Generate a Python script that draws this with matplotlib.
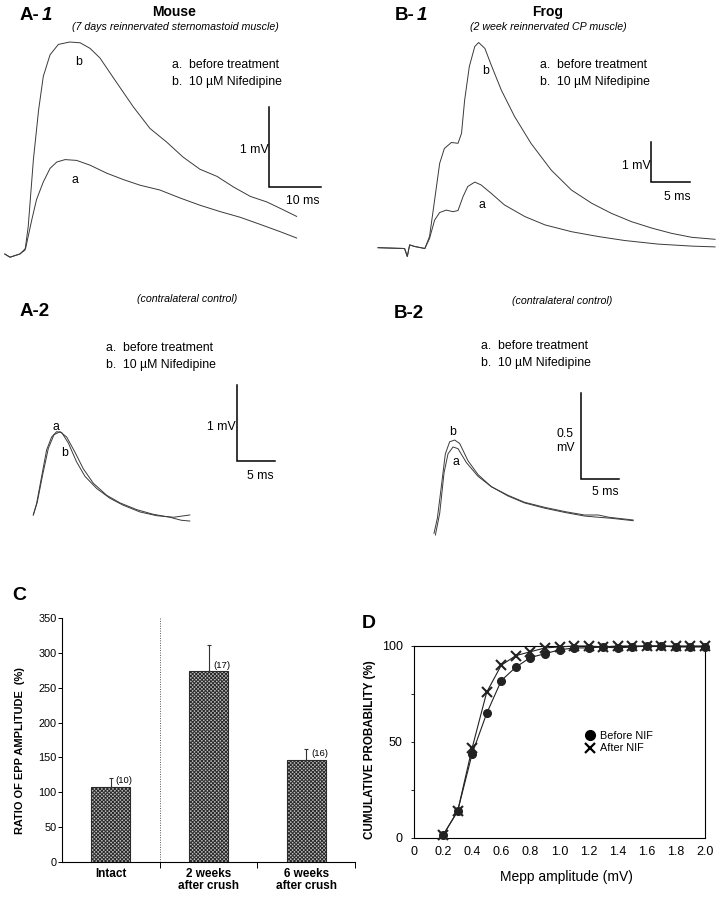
import matplotlib.pyplot as plt
from matplotlib.lines import Line2D

plt.rcParams['font.family'] = ['Liberation Sans', 'DejaVu Sans']
plt.rcParams['hatch.linewidth'] = 0.7

W, H = 716, 899

# --- EPP traces (time in ms, amplitude in mV) ---
# A-1: mouse, 7 days reinnervated
a1_a_t = [-3.5, -2.5, -0.6, 0.5, 1.7, 2.6, 3.9, 5.2, 6.5, 8.1, 10.3, 12.9, 16.1, 19.3, 22.5,
          26.3, 30.2, 34.0, 37.9, 41.7, 45.6, 49.4, 52.6]
a1_a_v = [0.0, -0.04, 0.0, 0.07, 0.43, 0.68, 0.90, 1.07, 1.15, 1.18, 1.17, 1.11, 1.01, 0.93, 0.86,
          0.80, 0.70, 0.61, 0.53, 0.46, 0.37, 0.28, 0.20]
a1_b_t = [-3.5, -2.5, -0.6, 0.4, 1.0, 2.0, 3.0, 3.9, 5.2, 6.8, 9.0, 11.0, 12.9, 14.8, 17.4, 21.2,
          24.4, 27.6, 30.8, 34.0, 37.3, 40.4, 43.7, 46.9, 50.1, 52.6]
a1_b_v = [0.0, -0.04, 0.0, 0.05, 0.34, 1.18, 1.80, 2.22, 2.49, 2.62, 2.65, 2.64, 2.57, 2.45, 2.20, 1.84,
          1.57, 1.40, 1.21, 1.06, 0.97, 0.84, 0.72, 0.65, 0.55, 0.47]

# B-1: frog, 2 week reinnervated
b1_a_t = [-6.4, -3.0, -2.65, -2.35, -1.7, -0.4, 0.2, 0.85, 1.5, 2.35, 3.2, 3.85, 4.5, 5.1, 6.0,
          6.8, 8.1, 9.8, 12.4, 15.0, 18.4, 21.8, 25.2, 29.5, 33.8, 36.8]
b1_a_v = [0.0, -0.02, -0.22, 0.07, 0.03, -0.02, 0.23, 0.69, 0.88, 0.94, 0.90, 0.93, 1.28, 1.53, 1.64,
          1.57, 1.36, 1.07, 0.78, 0.57, 0.40, 0.28, 0.18, 0.09, 0.04, 0.02]
b1_b_t = [-6.4, -3.0, -2.65, -2.35, -1.7, -0.4, 0.2, 0.85, 1.5, 2.1, 3.0, 3.85, 4.3, 4.7, 5.3, 6.0,
          6.5, 7.3, 8.1, 9.4, 11.1, 13.2, 15.8, 18.4, 21.0, 23.5, 26.1, 28.7, 31.2, 33.8, 36.8]
b1_b_v = [0.0, -0.02, -0.22, 0.07, 0.03, -0.02, 0.28, 1.19, 2.11, 2.48, 2.63, 2.61, 2.86, 3.69, 4.53, 5.03,
          5.13, 4.98, 4.57, 3.94, 3.28, 2.61, 1.94, 1.44, 1.11, 0.86, 0.65, 0.49, 0.36, 0.26, 0.21]

# A-2: mouse, contralateral control
a2_a_t = [0, 0.43, 1.09, 1.74, 2.39, 3.04, 3.70, 4.57, 5.65, 6.74, 8.26, 10.0, 11.7, 13.9, 16.1, 18.3, 20.4]
a2_a_v = [0, 0.15, 0.51, 0.86, 1.03, 1.10, 1.09, 0.95, 0.70, 0.51, 0.35, 0.22, 0.13, 0.04, -0.01, -0.03, 0.0]
a2_b_t = [0, 0.52, 1.22, 1.96, 2.70, 3.48, 4.35, 5.43, 6.52, 7.82, 9.57, 11.3, 13.5, 15.6, 17.8, 19.3, 20.4]
a2_b_v = [0, 0.17, 0.53, 0.88, 1.06, 1.10, 1.03, 0.83, 0.61, 0.42, 0.26, 0.16, 0.07, 0.01, -0.03, -0.07, -0.08]

# B-2: frog, contralateral control
b2_a_t = [0.18, 0.75, 1.32, 1.84, 2.5, 3.16, 4.25, 5.79, 7.54, 9.74, 11.9, 14.6, 17.3, 19.8, 21.6, 23.3, 26.2]
b2_a_v = [-0.01, 0.116, 0.35, 0.46, 0.50, 0.49, 0.41, 0.33, 0.27, 0.216, 0.176, 0.145, 0.12, 0.10, 0.093,
          0.087, 0.073]
b2_b_t = [0, 0.44, 0.96, 1.49, 2.06, 2.72, 3.38, 4.47, 5.79, 7.54, 9.74, 11.9, 14.6, 17.3, 19.8, 21.6,
          23.0, 24.6, 26.2]
b2_b_v = [0, 0.087, 0.27, 0.46, 0.53, 0.54, 0.52, 0.42, 0.34, 0.27, 0.22, 0.18, 0.15, 0.125, 0.106, 0.106,
          0.093, 0.085, 0.077]

# --- C: ratio of EPP amplitude ---
groups = ['Intact', '2 weeks\nafter crush', '6 weeks\nafter crush']
ratio = [108, 274, 147]
ratio_err = [12, 37, 15]
n_cells = ['(10)', '(17)', '(16)']

# --- D: cumulative mepp amplitude ---
mepp = [0.2, 0.3, 0.4, 0.5, 0.6, 0.7, 0.8, 0.9, 1.0, 1.1, 1.2, 1.3, 1.4, 1.5, 1.6, 1.7, 1.8, 1.9, 2.0]
before_nif = [1.5, 14, 44, 65, 82, 89, 94, 96, 98, 99, 99, 99.5, 99, 99.5, 100, 100, 99.5, 99.5, 99.5]
after_nif = [1.5, 14, 47, 76, 90, 95, 97, 99, 99.5, 100, 100, 99.5, 100, 100, 100, 100, 100, 100, 100]

fig = plt.figure(figsize=(W / 100, H / 100), dpi=100)


def px(x, y):
    return x / W, 1 - y / H


def txt(x, y, s, **kw):
    kw.setdefault('fontsize', 8.8)
    kw.setdefault('va', 'center')
    fig.text(*px(x, y), s, **kw)


def trace_axes(x0, y0, x1, y1, xlim, ylim):
    l, t = px(x0, y0)
    r, b = px(x1, y1)
    ax = fig.add_axes([l, b, r - l, t - b])
    ax.set_xlim(*xlim)
    ax.set_ylim(*ylim)
    ax.axis('off')
    return ax


def scalebar(ax, x, y, dt, dv):
    ax.plot([x, x, x + dt], [y + dv, y, y], color='black', lw=1.1, solid_joinstyle='miter')


tc = '#3a3a3a'

ax = trace_axes(0, 0, 358, 270, (-4.42, 64.4), (-0.2, 3.175))
ax.plot(a1_a_t, a1_a_v, color=tc, lw=0.7)
ax.plot(a1_b_t, a1_b_v, color=tc, lw=0.7)
scalebar(ax, 47.3, 0.84, 10, 1)

ax = trace_axes(358, 0, 716, 270, (-8.97, 36.92), (-0.5575, 6.1925))
ax.plot(b1_a_t, b1_a_v, color=tc, lw=0.7)
ax.plot(b1_b_t, b1_b_v, color=tc, lw=0.7)
scalebar(ax, 28.63, 1.65, 5, 1)

ax = trace_axes(0, 280, 358, 580, (-4.34, 42.33), (-0.859, 3.104))
ax.plot(a2_a_t, a2_a_v, color=tc, lw=0.7)
ax.plot(a2_b_t, a2_b_v, color=tc, lw=0.7)
scalebar(ax, 26.52, 0.717, 5, 1)

ax = trace_axes(358, 280, 716, 580, (-10.0, 37.1), (-0.2704, 1.4667))
ax.plot(b2_a_t, b2_a_v, color=tc, lw=0.7)
ax.plot(b2_b_t, b2_b_v, color=tc, lw=0.7)
scalebar(ax, 19.30, 0.314, 5, 0.5)

# panel labels and texts
big = dict(fontsize=13.5, fontweight='bold')
txt(20, 15, 'A-', **big)
txt(42, 15, '1', fontstyle='italic', **big)
txt(395, 15, 'B-', **big)
txt(417, 15, '1', fontstyle='italic', **big)
txt(20, 312, 'A-2', **big)
txt(394, 313, 'B-2', **big)
txt(12, 595, 'C', fontsize=14, fontweight='bold')
txt(362, 623, 'D', fontsize=14, fontweight='bold')

txt(174, 12, 'Mouse', fontsize=10, fontweight='bold', ha='center')
txt(175, 27, '(7 days reinnervated sternomastoid muscle)', fontsize=7.7, fontstyle='italic', ha='center')
txt(548, 12, 'Frog', fontsize=10, fontweight='bold', ha='center')
txt(548, 27, '(2 week reinnervated CP muscle)', fontsize=7.7, fontstyle='italic', ha='center')
txt(187, 299, '(contralateral control)', fontsize=7.7, fontstyle='italic', ha='center')
txt(562, 301, '(contralateral control)', fontsize=7.7, fontstyle='italic', ha='center')

for lx, ly in [(172, 65), (540, 65), (106, 348), (481, 346)]:
    txt(lx, ly, 'a.  before treatment')
    txt(lx, ly + 17, 'b.  10 µM Nifedipine')

txt(79, 62, 'b', ha='center')
txt(75, 180, 'a', ha='center')
txt(486, 71, 'b', ha='center')
txt(482, 205, 'a', ha='center')
txt(56, 427, 'a', ha='center')
txt(65, 453, 'b', ha='center')
txt(453, 432, 'b', ha='center')
txt(456, 462, 'a', ha='center')

txt(269, 150, '1 mV', ha='right')
txt(303, 201, '10 ms', ha='center')
txt(651, 166, '1 mV', ha='right')
txt(677, 197, '5 ms', ha='center')
txt(236, 427, '1 mV', ha='right')
txt(260, 476, '5 ms', ha='center')
txt(565, 434, '0.5', ha='center')
txt(565, 448, 'mV', ha='center')
txt(605, 492, '5 ms', ha='center')

# --- panel C ---
axc = fig.add_axes([62 / W, 1 - 862 / H, 293 / W, 244 / H])
xs = range(len(groups))
axc.bar(xs, ratio, width=0.4, facecolor='#bdbdbd', edgecolor='#2a2a2a', hatch='xxxxxxxxx', lw=0.8,
        yerr=[[0] * len(ratio), ratio_err], error_kw=dict(ecolor='#333333', elinewidth=0.8, capsize=1.5,
                                                          capthick=0.8))
for i, (v, e, n) in enumerate(zip(ratio, ratio_err, n_cells)):
    axc.text(i + 0.05, v + 2, n, fontsize=6.8, va='bottom', ha='left')
axc.axvline(0.5, ymin=0, ymax=1, color='#555555', lw=0.7, ls=(0, (1, 1.5)))
axc.set_xlim(-0.5, 2.5)
axc.set_ylim(0, 350)
axc.set_yticks(range(0, 351, 50))
axc.tick_params(axis='y', labelsize=7.8, length=3, width=0.7, pad=1)
axc.set_xticks(list(xs))
axc.set_xticklabels(groups, fontsize=8.5, fontweight='bold', linespacing=1.05)
axc.tick_params(axis='x', length=0, pad=4)
axc.set_xticks([0.5, 1.5, 2.5], minor=True)
axc.tick_params(axis='x', which='minor', length=4, width=0.7)
for s in ['top', 'right']:
    axc.spines[s].set_visible(False)
for s in ['left', 'bottom']:
    axc.spines[s].set_linewidth(0.8)
txt(20, 751, 'RATIO OF EPP AMPLITUDE  (%)', fontsize=7.9, fontweight='bold', rotation=90, ha='center')

# --- panel D ---
axd = fig.add_axes([414 / W, 1 - 838 / H, 291 / W, 192 / H])
axd.plot(mepp, before_nif, color='#222222', lw=0.8, marker='o', ms=5.5, clip_on=False, zorder=3)
axd.plot(mepp, after_nif, color='#222222', lw=0.8, marker='x', ms=6.5, mew=1.5, clip_on=False, zorder=3)
axd.set_xlim(0, 2.0)
axd.set_ylim(0, 100)
axd.set_xticks([0, 0.2, 0.4, 0.6, 0.8, 1.0, 1.2, 1.4, 1.6, 1.8, 2.0])
axd.set_xticklabels(['0', '0.2', '0.4', '0.6', '0.8', '1.0', '1.2', '1.4', '1.6', '1.8', '2.0'])
axd.tick_params(axis='x', length=0, labelsize=9, pad=6)
axd.set_yticks([0, 50, 100])
axd.set_yticks([25, 75], minor=True)
axd.tick_params(axis='y', which='both', length=2, width=0.6, labelsize=9, pad=6)
for s in axd.spines.values():
    s.set_linewidth(0.8)
handles = [Line2D([], [], ls='none', marker='o', ms=7, color='black'),
           Line2D([], [], ls='none', marker='x', ms=7, mew=1.6, color='black')]
axd.legend(handles, ['Before NIF', 'After NIF'], loc='center left', bbox_to_anchor=(0.57, 0.50),
           frameon=False, fontsize=7.8, handlelength=0.8, handletextpad=0.6, labelspacing=0.25,
           borderpad=0)
txt(370, 750, 'CUMULATIVE PROBABILITY (%)', fontsize=8.4, fontweight='bold', rotation=90, ha='center')
txt(566, 877, 'Mepp amplitude (mV)', fontsize=10, ha='center')

fig.savefig('out.png', dpi=100)
